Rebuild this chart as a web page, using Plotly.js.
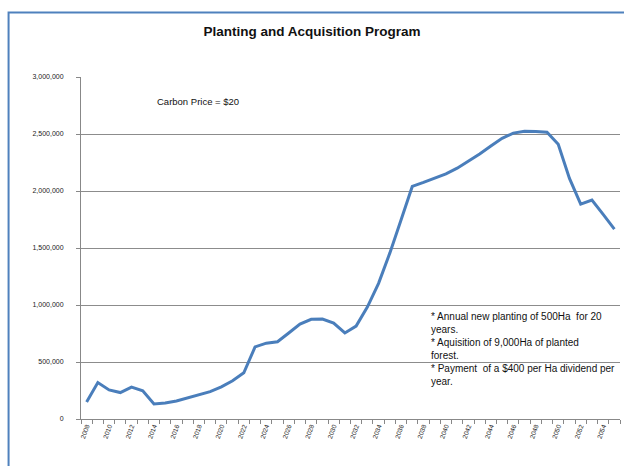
<!DOCTYPE html>
<html>
<head>
<meta charset="utf-8">
<script src="https://cdn.plot.ly/plotly-3.0.1.min.js"></script>
<style>
  html, body { margin: 0; padding: 0; background: #ffffff; }
  #chart { width: 624px; height: 466px; }
</style>
</head>
<body>
<div id="chart"></div>
<script>
// Programme years, one category per year
const years = [];
for (let y = 2008; y <= 2055; y++) years.push(y);

// Annual value of the planting and acquisition programme
const programValue = [
  150000, 320000, 255000, 232000, 280000, 248000, 132000, 140000,
  158000, 184000, 212000, 240000, 282000, 335000, 405000, 632000,
  665000, 678000, 754000, 833000, 875000, 877000, 842000, 755000,
  815000, 982000, 1190000, 1455000, 1745000, 2040000, 2075000, 2110000,
  2150000, 2200000, 2262000, 2325000, 2395000, 2462000, 2508000, 2525000,
  2522000, 2515000, 2410000, 2110000, 1885000, 1920000, 1795000, 1665000
];

// Labelled years along the bottom axis (every second year)
const labelYears = years.filter((y, i) => i % 2 === 0);
const labelText = labelYears.map(String);

const yTicks = [0, 500000, 1000000, 1500000, 2000000, 2500000, 3000000];

const chartTitle = 'Planting and Acquisition Program';
const priceNote = 'Carbon Price = $20';
const programNotes = [
  '* Annual new planting of 500Ha  for 20',
  'years.',
  '* Aquisition of 9,000Ha of planted',
  'forest.',
  '* Payment  of a $400 per Ha dividend per',
  'year.'
];

const FONT = '"Liberation Sans Narrow", "Liberation Sans", Arial, sans-serif';

const trace = {
  type: 'scatter',
  mode: 'lines',
  x: years,
  y: programValue,
  line: { color: '#4a7ebb', width: 3 },
  hoverinfo: 'x+y'
};

const layout = {
  width: 624,
  height: 466,
  margin: { l: 81, r: 3.5, t: 77, b: 47, pad: 0 },
  paper_bgcolor: '#ffffff',
  plot_bgcolor: '#ffffff',
  showlegend: false,
  font: { family: FONT, color: '#222222' },
  title: {
    text: '<b>' + chartTitle + '</b>',
    font: { family: FONT, size: 13.5, color: '#111111' },
    x: 0.5, xanchor: 'center',
    y: 1 - 31 / 466, yanchor: 'middle'
  },
  xaxis: {
    type: 'linear',
    range: [2007.5, 2055.5],
    tickmode: 'array',
    tickvals: labelYears,
    ticktext: labelText,
    tickangle: -70,
    ticks: '',
    tickfont: { family: FONT, size: 6.5, color: '#222222' },
    showgrid: false,
    zeroline: false,
    showline: true,
    linecolor: '#888888',
    linewidth: 1,
    minor: {
      tickmode: 'linear',
      tick0: 2007.5,
      dtick: 1,
      ticks: 'outside',
      ticklen: 4,
      tickcolor: '#888888',
      tickwidth: 1,
      showgrid: false
    },
    fixedrange: true
  },
  yaxis: {
    range: [0, 3000000],
    tickmode: 'array',
    tickvals: yTicks,
    tickformat: ',d',
    ticks: 'outside',
    ticklen: 4,
    tickcolor: '#888888',
    ticklabelstandoff: 11,
    tickfont: { family: FONT, size: 7, color: '#222222' },
    showgrid: true,
    gridcolor: '#8c8c8c',
    gridwidth: 1,
    zeroline: false,
    showline: true,
    linecolor: '#888888',
    linewidth: 1,
    fixedrange: true
  },
  annotations: [
    {
      xref: 'paper', yref: 'paper',
      x: (155 - 81) / 539.5, y: (419 - 102) / 342,
      xanchor: 'left', yanchor: 'middle',
      text: priceNote,
      showarrow: false,
      font: { family: FONT, size: 9.5, color: '#111111' }
    },
    {
      xref: 'paper', yref: 'paper',
      x: (429 - 81) / 539.5, y: (419 - 309) / 342,
      xanchor: 'left', yanchor: 'top',
      align: 'left',
      text: programNotes.join('<br>'),
      showarrow: false,
      font: { family: FONT, size: 10, color: '#111111' }
    }
  ],
  shapes: [
    {
      // chart-area frame
      type: 'rect',
      xref: 'paper', yref: 'paper',
      x0: (8.5 - 81) / 539.5, x1: (660 - 81) / 539.5,
      y0: (419 - 500) / 342, y1: (419 - 12.5) / 342,
      line: { color: '#4f81bd', width: 2 },
      fillcolor: 'rgba(0,0,0,0)',
      layer: 'below'
    }
  ]
};

Plotly.newPlot('chart', [trace], layout, { staticPlot: true, displayModeBar: false });
</script>
</body>
</html>
